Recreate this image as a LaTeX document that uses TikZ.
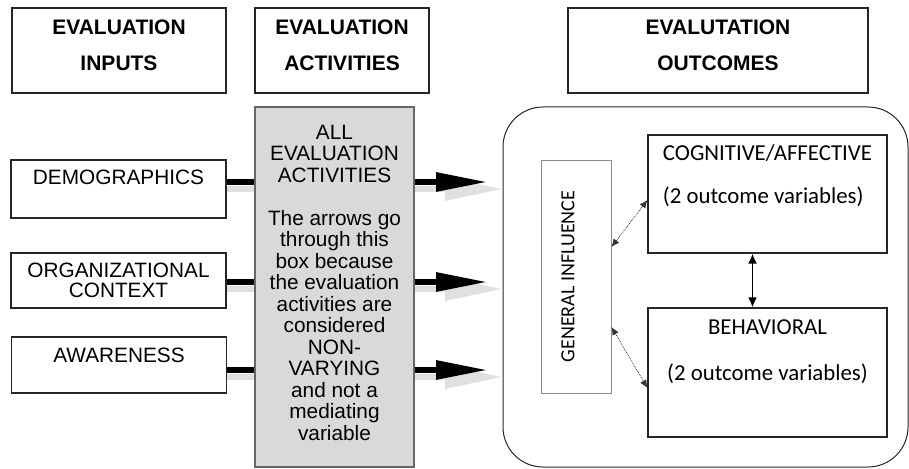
\documentclass[tikz,border=0pt]{standalone}
\usepackage{fontspec}
\setmainfont{Liberation Sans}
\newfontfamily\califont{Carlito}
\usetikzlibrary{arrows.meta,positioning}

\begin{document}
\begin{tikzpicture}[x=1pt,y=-1pt,
    headbox/.style={draw=black!85, line width=1.2pt, minimum width=#1, minimum height=85pt,
      inner sep=0pt, align=center, font=\fontsize{21}{36}\selectfont\bfseries},
    inbox/.style={draw=black!85, line width=1.2pt, minimum width=215pt, minimum height=#1,
      inner sep=0pt, align=center, font=\fontsize{20.8}{20}\selectfont},
    outbox/.style={draw=black!85, line width=1.2pt, minimum width=239pt, minimum height=#1,
      inner sep=0pt, font=\califont\fontsize{22.8}{43}\selectfont},
    bar/.style={line width=6pt, draw=black},
    bigarrow/.style={line width=6pt, draw=black, -{Triangle[length=52pt,width=18pt]}},
    barshadow/.style={line width=6pt, draw=black!12},
    shadowarrow/.style={line width=6pt, draw=black!12, -{Triangle[length=58pt,width=22pt]}},
    dotlink/.style={densely dotted, line width=0.8pt, draw=black!80, {Latex[length=8pt,width=7pt]}-{Latex[length=8pt,width=7pt]}},
    solidlink/.style={line width=1.8pt, draw=black, {Latex[length=10pt,width=9pt]}-{Latex[length=10pt,width=9pt]}}]
  \useasboundingbox (0,0) rectangle (909,468);

  % Column headers
  \node[headbox=214pt] (hin) at (119,50.5) {EVALUATION\\INPUTS\rule[-11.5pt]{0pt}{11.5pt}};
  \node[headbox=174pt] (hact) at (342,50.5) {EVALUATION\\ACTIVITIES\rule[-11.5pt]{0pt}{11.5pt}};
  \node[headbox=300pt] (hout) at (718,50.5) {EVALUTATION\\OUTCOMES\rule[-11.5pt]{0pt}{11.5pt}};

  % Inputs
  \node[inbox=58pt] (demo) at (118.5,189) {DEMOGRAPHICS\rule[-24pt]{0pt}{24pt}};
  \node[inbox=55pt] (orga) at (118.5,280.5) {ORGANIZATIONAL\\CONTEXT};
  \node[inbox=56pt] (awar) at (119,365) {AWARENESS\rule[-20pt]{0pt}{20pt}};

  % Activities box
  \node[draw=black!60, line width=1.2pt, fill=black!15, minimum width=159pt, minimum height=360pt,
    inner sep=0pt, align=center, font=\fontsize{20.8}{21.5}\selectfont] (act) at (334.5,287)
    {ALL\\EVALUATION\\ACTIVITIES\\[21.5pt]The arrows go\\through this\\box because\\the evaluation\\activities are\\considered\\NON-\\VARYING\\and not a\\mediating\\variable\rule[-9pt]{0pt}{9pt}};

  % Outcomes
  \node[draw=black!85, line width=1pt, rounded corners=40pt, minimum width=405pt, minimum height=360pt] (outc) at (705.5,287) {};
  \node[draw=black!45, line width=1pt, rotate=90, minimum width=233pt, minimum height=70pt, inner sep=0pt,
    font=\califont\fontsize{20}{20}\selectfont] (genr) at (576,276.5) {GENERAL INFLUENCE\rule[-16pt]{0pt}{16pt}};
  \node[outbox=118pt, align=left] (cog) at (767.5,194) {COGNITIVE/AFFECTIVE\\(2 outcome variables)\rule[-39pt]{0pt}{39pt}};
  \node[outbox=129pt, align=center, font=\califont\fontsize{22.8}{46}\selectfont] (beh) at (767.5,372.5) {BEHAVIORAL\\(2 outcome variables)\rule[-45pt]{0pt}{45pt}};

  % Arrow rows
  \coordinate (r1) at (0,182);
  \coordinate (r2) at (0,282);
  \coordinate (r3) at (0,370);
  \coordinate (s1) at (0,189);
  \coordinate (s2) at (0,289);
  \coordinate (s3) at (0,377);
  \coordinate (tip) at (488,0);
  \coordinate (stip) at (503,0);

  % Shadows of the arrows
  \draw[barshadow] (demo.east |- s1) -- (act.west |- s1);
  \draw[barshadow] (orga.east |- s2) -- (act.west |- s2);
  \draw[barshadow] (awar.east |- s3) -- (act.west |- s3);
  \draw[shadowarrow] (act.east |- s1) -- (stip |- s1);
  \draw[shadowarrow] (act.east |- s2) -- (stip |- s2);
  \draw[shadowarrow] (act.east |- s3) -- (stip |- s3);

  % Arrows through the activities box
  \draw[bar] (demo.east |- r1) -- (act.west |- r1);
  \draw[bar] (orga.east |- r2) -- (act.west |- r2);
  \draw[bar] (awar.east |- r3) -- (act.west |- r3);
  \draw[bigarrow] (act.east |- r1) -- (tip |- r1);
  \draw[bigarrow] (act.east |- r2) -- (tip |- r2);
  \draw[bigarrow] (act.east |- r3) -- (tip |- r3);

  % Links between outcomes
  \draw[dotlink] ([yshift=29.5pt]genr.south) -- ([yshift=-6pt]cog.west);
  \draw[dotlink] ([yshift=-50.5pt]genr.south) -- ([yshift=-15.5pt]beh.west);
  \draw[solidlink] ([xshift=-15pt]cog.south) -- ([xshift=-15pt]beh.north);
\end{tikzpicture}
\end{document}
